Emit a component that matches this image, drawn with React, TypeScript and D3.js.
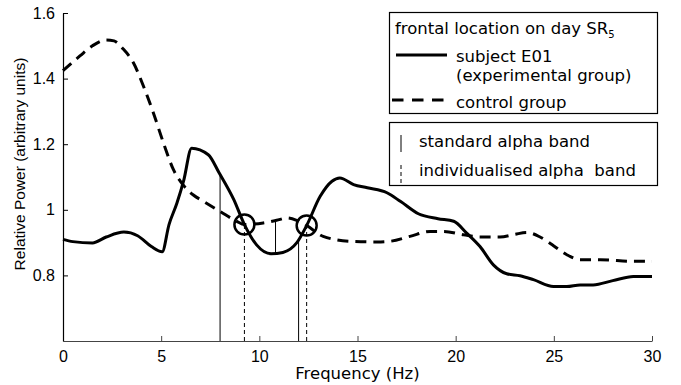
import React, { useEffect, useRef } from 'react'
import * as d3 from 'd3'

// subject E01 (experimental group), frontal, day SR5
const subjectFreq = [0, 0.5, 1.5, 2.2, 3.1, 3.8, 4.5, 5.05, 5.4, 5.8, 6.15, 6.55, 7.4, 7.95, 8.7, 9.24, 9.86, 10.6, 11.2, 11.9, 12.41, 13.1, 13.7, 14.1, 14.8, 15.5, 16.5, 17.2, 18.1, 19.1, 19.9, 20.56, 21.24, 21.92, 22.6, 23.28, 23.96, 24.98, 25.66, 26.34, 27.0, 28.0, 29.05, 30]
const subjectPower = [0.91, 0.903, 0.899, 0.917, 0.932, 0.921, 0.888, 0.872, 0.955, 1.02, 1.09, 1.188, 1.168, 1.113, 1.031, 0.955, 0.893, 0.866, 0.87, 0.899, 0.952, 1.041, 1.087, 1.097, 1.077, 1.067, 1.052, 1.025, 0.988, 0.973, 0.965, 0.929, 0.888, 0.832, 0.805, 0.799, 0.787, 0.766, 0.766, 0.771, 0.771, 0.784, 0.797, 0.797]

// control group
const controlFreq = [0, 0.86, 1.5, 2.2, 2.6, 3.07, 3.58, 4.09, 4.6, 5.11, 5.62, 6.13, 6.64, 7.15, 8.0, 8.85, 9.24, 10.2, 10.88, 11.4, 11.9, 12.41, 13.25, 14.62, 16.0, 16.65, 17.67, 18.7, 19.37, 20.39, 21.24, 22.26, 23.0, 23.62, 24.3, 25.0, 25.66, 26.34, 27.36, 29.05, 30]
const controlPower = [1.424, 1.469, 1.5, 1.518, 1.515, 1.49, 1.449, 1.378, 1.296, 1.205, 1.123, 1.075, 1.045, 1.026, 0.995, 0.965, 0.955, 0.96, 0.968, 0.975, 0.968, 0.952, 0.919, 0.904, 0.902, 0.904, 0.919, 0.934, 0.934, 0.924, 0.917, 0.917, 0.925, 0.931, 0.917, 0.89, 0.863, 0.848, 0.848, 0.843, 0.843]

const standardBand = [8, 12]
const individualBand = [9.24, 12.41]

const xTicks = [0, 5, 10, 15, 20, 25, 30]
const yTicks = [0.8, 1, 1.2, 1.4, 1.6]

const W = 681
const H = 385
const margin = { top: 13, right: 29, bottom: 44, left: 63 }

// linear interpolation in a sampled curve
const interp = (fs: number[], vs: number[], f: number) => {
  const i = Math.max(1, Math.min(fs.length - 1, d3.bisectLeft(fs, f)))
  const t = (f - fs[i - 1]) / (fs[i] - fs[i - 1])
  return vs[i - 1] + t * (vs[i] - vs[i - 1])
}

const App = () => {
  const ref = useRef<SVGSVGElement | null>(null)

  useEffect(() => {
    document.body.style.margin = '0'
    const svg = d3.select(ref.current)
    svg.selectAll('*').remove()

    const x = d3.scaleLinear().domain([0, 30]).range([margin.left, W - margin.right])
    const y = d3.scaleLinear().domain([0.6, 1.6]).range([H - margin.bottom, margin.top])

    const tickFont = '"Liberation Sans", Arial, sans-serif'
    const textFont = '"DejaVu Sans", sans-serif'

    // axes
    const gx = svg.append('g').attr('transform', `translate(0,${y(0.6)})`)
      .call(d3.axisBottom(x).tickValues(xTicks).tickSizeInner(-5).tickSizeOuter(0).tickPadding(10).tickFormat(d3.format('d')))
    gx.select('.domain').attr('stroke', '#444').attr('stroke-width', 1.2)
    gx.selectAll('.tick line').attr('stroke', '#444')
    gx.selectAll('.tick text').attr('font-family', tickFont).attr('font-size', 16).attr('fill', '#000')

    const gy = svg.append('g').attr('transform', `translate(${x(0)},0)`)
      .call(d3.axisLeft(y).tickValues(yTicks).tickSizeInner(-5).tickSizeOuter(0).tickPadding(8).tickFormat(d3.format('')))
    gy.select('.domain').attr('stroke', '#000').attr('stroke-width', 1.2)
    gy.selectAll('.tick line').attr('stroke', '#000')
    gy.selectAll('.tick text').attr('font-family', tickFont).attr('font-size', 16).attr('fill', '#000')

    svg.append('text')
      .attr('x', (x(0) + x(30)) / 2).attr('y', 379)
      .attr('text-anchor', 'middle').attr('font-family', textFont).attr('font-size', 16.5)
      .text('Frequency (Hz)')

    svg.append('text')
      .attr('transform', `translate(25,164) rotate(-90)`)
      .attr('text-anchor', 'middle').attr('font-family', tickFont).attr('font-size', 15.5)
      .text('Relative Power (arbitrary units)')

    // alpha band markers
    standardBand.forEach((f) => {
      svg.append('line')
        .attr('x1', x(f)).attr('x2', x(f))
        .attr('y1', y(0.6)).attr('y2', y(interp(subjectFreq, subjectPower, f)))
        .attr('stroke', '#000').attr('stroke-width', 1)
    })
    individualBand.forEach((f) => {
      svg.append('line')
        .attr('x1', x(f)).attr('x2', x(f))
        .attr('y1', y(0.6)).attr('y2', y(interp(subjectFreq, subjectPower, f)))
        .attr('stroke', '#000').attr('stroke-width', 1).attr('stroke-dasharray', '4,3')
    })
    const mid = d3.mean(individualBand) as number
    svg.append('line')
      .attr('x1', x(mid)).attr('x2', x(mid))
      .attr('y1', y(interp(subjectFreq, subjectPower, mid)))
      .attr('y2', y(interp(controlFreq, controlPower, mid)))
      .attr('stroke', '#000').attr('stroke-width', 1)

    const line = d3.line<[number, number]>()
      .x((d) => x(d[0])).y((d) => y(d[1]))
      .curve(d3.curveMonotoneX)

    svg.append('path')
      .datum(d3.zip(controlFreq, controlPower) as [number, number][])
      .attr('d', line).attr('fill', 'none').attr('stroke', '#000')
      .attr('stroke-width', 3).attr('stroke-dasharray', '11,7')

    svg.append('path')
      .datum(d3.zip(subjectFreq, subjectPower) as [number, number][])
      .attr('d', line).attr('fill', 'none').attr('stroke', '#000')
      .attr('stroke-width', 3).attr('stroke-linejoin', 'round')

    // crossing circles
    individualBand.forEach((f) => {
      svg.append('circle')
        .attr('cx', x(f)).attr('cy', y(interp(subjectFreq, subjectPower, f)))
        .attr('r', 10).attr('fill', 'none').attr('stroke', '#000').attr('stroke-width', 2.5)
    })

    // legend 1
    const lg = svg.append('g').attr('font-family', textFont).attr('font-size', 16.5)
    lg.append('rect').attr('x', 389.5).attr('y', 12.5).attr('width', 268).attr('height', 101)
      .attr('fill', '#fff').attr('stroke', '#000').attr('stroke-width', 1.2)
    const t1 = lg.append('text').attr('x', 395).attr('y', 33.5)
    t1.append('tspan').text('frontal location on day SR')
    t1.append('tspan').attr('font-size', 10).attr('dy', 4).text('5')
    lg.append('line').attr('x1', 396).attr('x2', 447).attr('y1', 55).attr('y2', 55)
      .attr('stroke', '#000').attr('stroke-width', 3)
    lg.append('text').attr('x', 456).attr('y', 62).text('subject E01')
    lg.append('text').attr('x', 456).attr('y', 81).text('(experimental group)')
    lg.append('line').attr('x1', 392).attr('x2', 450).attr('y1', 100).attr('y2', 100)
      .attr('stroke', '#000').attr('stroke-width', 3).attr('stroke-dasharray', '11.5,8.5')
    lg.append('text').attr('x', 456).attr('y', 107.5).text('control group')

    // legend 2
    lg.append('rect').attr('x', 389.5).attr('y', 122.5).attr('width', 268).attr('height', 63)
      .attr('fill', '#fff').attr('stroke', '#000').attr('stroke-width', 1.2)
    lg.append('line').attr('x1', 401).attr('x2', 401).attr('y1', 135).attr('y2', 152)
      .attr('stroke', '#000').attr('stroke-width', 1)
    lg.append('text').attr('x', 419).attr('y', 147).text('standard alpha band')
    lg.append('line').attr('x1', 401).attr('x2', 401).attr('y1', 165).attr('y2', 183)
      .attr('stroke', '#000').attr('stroke-width', 1).attr('stroke-dasharray', '4,3')
    lg.append('text').attr('x', 419).attr('y', 176).style('white-space', 'pre').text('individualised alpha  band')
  }, [])

  return <svg ref={ref} width={W} height={H} style={{ display: 'block', background: '#fff' }} />
}

export default App
